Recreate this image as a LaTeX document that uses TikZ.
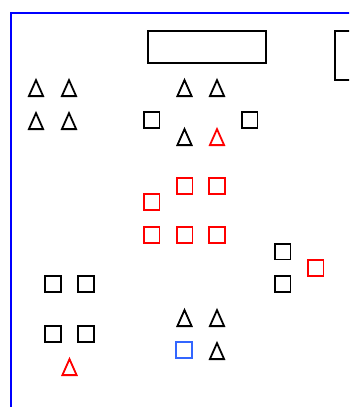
\documentclass[tikz,border=0pt]{standalone}
\usetikzlibrary{shapes.geometric}
\definecolor{fblue}{HTML}{0000FF}
\definecolor{sblue}{HTML}{3366FF}
\definecolor{fred}{HTML}{FF0000}
\begin{document}
\begin{tikzpicture}[x=1pt,y=-1pt,
  sq/.style={draw, line width=1.8pt, minimum size=15.8pt, inner sep=0pt},
  box/.style={draw, line width=1.8pt},
  tri/.pic={\draw[line width=1.8pt, pic actions] (-7.1,8.6)--(7.1,8.6)--(0,-7.4)--cycle;}]
\useasboundingbox (0,0) rectangle (349,407);
\clip (0,0) rectangle (349,407);
% frame
\draw[fblue, line width=1.8pt] (11,420) -- (11,13) -- (360,13);
% rectangles
\draw[box] (148,31) rectangle (266,63);
\draw[box] (335,31) rectangle (365,80);
% triangles
\pic (t1) at (36,87.5) {tri};
\pic (t2) at (69,87.5) {tri};
\pic (t3) at (184.5,87.5) {tri};
\pic (t4) at (217,87.5) {tri};
\pic (t5) at (36,120.5) {tri};
\pic (t6) at (69,120.5) {tri};
\pic (t7) at (184.5,136.5) {tri};
\pic[fred] (t8) at (217,136.5) {tri};
\pic (t9) at (184.5,317.5) {tri};
\pic (t10) at (217,317.5) {tri};
\pic (t11) at (217,350.5) {tri};
\pic[fred] (t12) at (69.5,366.5) {tri};
% squares
\node[sq] (s1) at (151.5,120) {};
\node[sq] (s2) at (249.5,120) {};
\node[sq, fred] (s3) at (184.5,186) {};
\node[sq, fred] (s4) at (217,186) {};
\node[sq, fred] (s5) at (151.5,202) {};
\node[sq, fred] (s6) at (151.5,235) {};
\node[sq, fred] (s7) at (184.5,235) {};
\node[sq, fred] (s8) at (217,235) {};
\node[sq] (s9) at (282.5,251.5) {};
\node[sq, fred] (s10) at (315.5,268) {};
\node[sq] (s11) at (282.5,284) {};
\node[sq] (s12) at (53,284) {};
\node[sq] (s13) at (86,284) {};
\node[sq] (s14) at (53,334) {};
\node[sq] (s15) at (86,334) {};
\node[sq, sblue] (s16) at (184,350) {};
\end{tikzpicture}
\end{document}
